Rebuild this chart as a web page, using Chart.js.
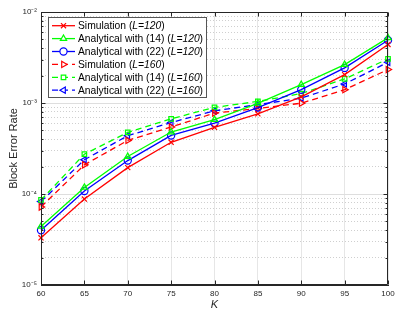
<!DOCTYPE html>
<html>
<head>
<meta charset="utf-8">
<script src="https://cdn.jsdelivr.net/npm/chart.js@4"></script>
<style>
  html, body { margin: 0; padding: 0; background: #fff; }
  #wrap { width: 401px; height: 314px; }
</style>
</head>
<body>
<div id="wrap"><canvas id="graph"></canvas></div>
<script>
// values
const kValues = [60, 65, 70, 75, 80, 85, 90, 95, 100];
const simL120 = [3.3e-5, 8.8e-5, 1.95e-4, 3.7e-4, 5.4e-4, 7.6e-4, 1.17e-3, 2.05e-3, 4.4e-3];
const eq14L120 = [4.4e-5, 1.18e-4, 2.58e-4, 4.8e-4, 6.55e-4, 9.9e-4, 1.59e-3, 2.64e-3, 5.2e-3];
const eq22L120 = [4.0e-5, 1.08e-4, 2.33e-4, 4.4e-4, 6.0e-4, 8.9e-4, 1.4e-3, 2.43e-3, 4.9e-3];
const simL160 = [7.2e-5, 2.09e-4, 3.88e-4, 5.45e-4, 7.75e-4, 8.7e-4, 9.95e-4, 1.4e-3, 2.33e-3];
const eq14L160 = [8.6e-5, 2.74e-4, 4.75e-4, 6.7e-4, 8.95e-4, 1.04e-3, 1.27e-3, 1.84e-3, 3.05e-3];
const eq22L160 = [8.25e-5, 2.38e-4, 4.37e-4, 6.1e-4, 8.2e-4, 9.6e-4, 1.13e-3, 1.62e-3, 2.8e-3];
const seriesLabels = [
  "Simulation (L=120)",
  "Analytical with (14) (L=120)",
  "Analytical with (22) (L=120)",
  "Simulation (L=160)",
  "Analytical with (14) (L=160)",
  "Analytical with (22) (L=160)",
];
const xTicks = [60, 65, 70, 75, 80, 85, 90, 95, 100];
const yMin = 1e-5;
const yMax = 1e-2;

const FONT = "'Liberation Sans', Arial, Helvetica, sans-serif";
const AXIS = "#262626";
const sup = { "-": "\u207B", "0": "\u2070", "1": "\u00B9", "2": "\u00B2", "3": "\u00B3", "4": "\u2074", "5": "\u2075" };

function isDecade(v) {
  const e = Math.log10(v);
  return Math.abs(e - Math.round(e)) < 1e-6;
}

function makeSet(label, data, color, style, rotation, dashed) {
  return {
    label: label,
    data: data.map((v, i) => ({ x: kValues[i], y: v })),
    borderColor: color,
    backgroundColor: "transparent",
    borderWidth: 1.3,
    borderDash: dashed ? [6, 4] : [],
    pointStyle: style,
    pointRotation: rotation,
    pointRadius: style === "rect" ? 3.2 : 3.6,
    pointBorderWidth: 1.2,
    pointBackgroundColor: "transparent",
    pointBorderColor: color,
    tension: 0,
    clip: false,
  };
}

const datasets = [
  makeSet(seriesLabels[0], simL120, "rgb(255,0,0)", "crossRot", 0, false),
  makeSet(seriesLabels[1], eq14L120, "rgb(0,255,0)", "triangle", 0, false),
  makeSet(seriesLabels[2], eq22L120, "rgb(0,0,255)", "circle", 0, false),
  makeSet(seriesLabels[3], simL160, "rgb(255,0,0)", "triangle", 90, true),
  makeSet(seriesLabels[4], eq14L160, "rgb(0,255,0)", "rect", 0, true),
  makeSet(seriesLabels[5], eq22L160, "rgb(0,0,255)", "triangle", -90, true),
];

// box around the plot, inward ticks, and the MATLAB-like legend
const framePlugin = {
  id: "frame",
  afterDatasetsDraw(chart) {
    const { ctx, chartArea: a, scales } = chart;
    const x = scales.x, y = scales.y;
    const l = Math.round(a.left) + 0.5, r = Math.round(a.right) - 0.5;
    const t = Math.round(a.top) + 0.5, b = Math.round(a.bottom) - 0.5;
    ctx.save();
    ctx.strokeStyle = AXIS;
    ctx.lineWidth = 1;
    ctx.beginPath();
    ctx.rect(l, t, r - l, b - t);
    xTicks.forEach(v => {
      const px = Math.round(x.getPixelForValue(v)) + 0.5;
      ctx.moveTo(px, b); ctx.lineTo(px, b - 4);
      ctx.moveTo(px, t); ctx.lineTo(px, t + 4);
    });
    y.ticks.forEach(tk => {
      const py = Math.round(y.getPixelForValue(tk.value)) + 0.5;
      const len = isDecade(tk.value) ? 4 : 2;
      ctx.moveTo(l, py); ctx.lineTo(l + len, py);
      ctx.moveTo(r, py); ctx.lineTo(r - len, py);
    });
    ctx.stroke();
    ctx.restore();
  },
  afterDraw(chart) {
    const ctx = chart.ctx;
    const box = { x: 48, y: 17, w: 158, h: 80 };
    ctx.save();
    ctx.fillStyle = "#fff";
    ctx.fillRect(box.x, box.y, box.w, box.h);
    ctx.strokeStyle = "#555";
    ctx.lineWidth = 1;
    ctx.strokeRect(box.x + 0.5, box.y + 0.5, box.w, box.h);
    const rowH = 12.9;
    chart.data.datasets.forEach((ds, i) => {
      const cy = box.y + 8.7 + i * rowH;
      ctx.strokeStyle = ds.borderColor;
      ctx.lineWidth = 1.3;
      ctx.setLineDash(ds.borderDash);
      ctx.beginPath();
      ctx.moveTo(box.x + 4, cy);
      ctx.lineTo(box.x + 27, cy);
      ctx.stroke();
      ctx.setLineDash([]);
      ctx.lineWidth = 1.2;
      ctx.fillStyle = "#fff";
      Chart.helpers.drawPoint(ctx, {
        pointStyle: ds.pointStyle,
        rotation: ds.pointRotation,
        radius: ds.pointRadius,
        borderWidth: 1.2,
      }, box.x + 15.5, cy);
      // label with italic "L=..." part
      const k = ds.label.indexOf("(L=");
      const parts = [
        [ds.label.slice(0, k + 1), "normal"],
        [ds.label.slice(k + 1, ds.label.length - 1), "italic"],
        [")", "normal"],
      ];
      let tx = box.x + 30;
      ctx.fillStyle = "#000";
      ctx.textBaseline = "middle";
      parts.forEach(p => {
        ctx.font = p[1] + " 10.3px " + FONT;
        ctx.fillText(p[0], tx, cy + 0.5);
        tx += ctx.measureText(p[0]).width;
      });
    });
    ctx.restore();
  },
};

new Chart(document.getElementById("graph"), {
  type: "line",
  data: { datasets: datasets },
  options: {
    responsive: true,
    maintainAspectRatio: false,
    animation: false,
    layout: { padding: { top: 12, right: 13, left: 0, bottom: 0 } },
    plugins: { legend: { display: false }, tooltip: { enabled: false } },
    scales: {
      x: {
        type: "linear",
        min: 60,
        max: 100,
        afterBuildTicks: scale => { scale.ticks = xTicks.map(v => ({ value: v })); },
        afterFit: scale => { scale.height = 29; },
        ticks: { color: AXIS, font: { family: FONT, size: 8 }, padding: 4, maxRotation: 0 },
        grid: { color: "#e6e6e6", lineWidth: 1, drawTicks: false },
        border: { color: AXIS },
        title: {
          display: true, text: "K", color: AXIS,
          font: { family: FONT, size: 11, style: "italic" },
          padding: { top: 0, bottom: 2 },
        },
      },
      y: {
        type: "logarithmic",
        min: yMin,
        max: yMax,
        afterBuildTicks: scale => {
          const ticks = [];
          for (let e = -5; e <= -2; e++) {
            for (let m = 1; m <= 9; m++) {
              const v = m * Math.pow(10, e);
              if (v <= yMax * 1.0001) ticks.push({ value: v });
            }
          }
          scale.ticks = ticks;
        },
        afterFit: scale => { scale.width = 41; },
        ticks: {
          autoSkip: false,
          color: AXIS,
          font: { family: FONT, size: 8 },
          padding: 4,
          callback: v => {
            if (!isDecade(v)) return "";
            const e = String(Math.round(Math.log10(v)));
            return "10" + e.split("").map(c => sup[c]).join("");
          },
        },
        grid: {
          color: c => (c.tick && isDecade(c.tick.value)) ? "#dedede" : "#cfcfcf",
          lineWidth: 1,
          drawTicks: false,
        },
        border: {
          color: AXIS,
          dash: c => (c.tick && !isDecade(c.tick.value)) ? [1, 2] : [],
        },
        title: {
          display: true, text: "Block Error Rate", color: AXIS,
          font: { family: FONT, size: 11 },
          padding: { top: 7, bottom: 0 },
        },
      },
    },
  },
  plugins: [framePlugin],
});
</script>
</body>
</html>
